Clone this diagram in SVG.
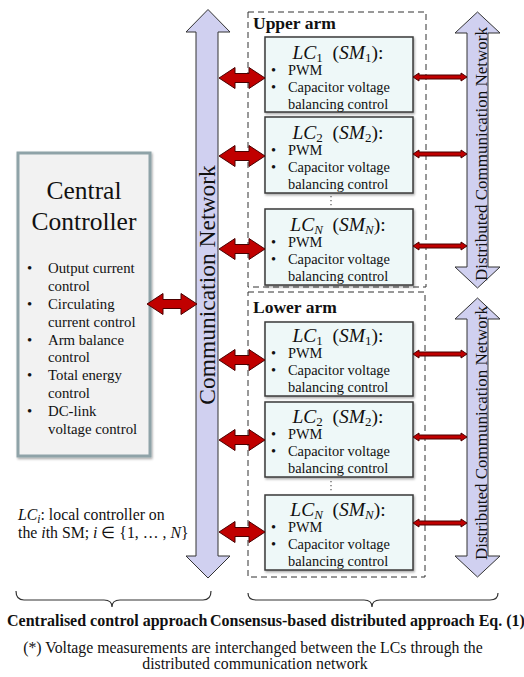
<svg xmlns="http://www.w3.org/2000/svg" width="524" height="677" viewBox="0 0 524 677" font-family="'Liberation Serif', 'Times New Roman', serif">
<defs>
<filter id="sh" x="-10%" y="-10%" width="120%" height="120%">
<feDropShadow dx="1" dy="1.5" stdDeviation="1.2" flood-color="#000" flood-opacity="0.35"/>
</filter>
<style>
text{font-family:"Liberation Serif","Times New Roman",serif;fill:#111}
.cc{fill:#f2f2f2;stroke:#8fa3a8;stroke-width:3}
.lc{fill:#eef8f8;stroke:#3a3a3a;stroke-width:1.5}
.dash{fill:none;stroke:#333;stroke-width:1;stroke-dasharray:6,4}
.net{fill:#d0d0f0;stroke:#333;stroke-width:1}
.red{fill:#c00000;stroke:#4a0000;stroke-width:1}
.brace{fill:none;stroke:#333;stroke-width:1.2}
.bt{font-size:14.4px}
.ct{font-size:14.8px}
.tt{font-size:19.5px}
.it{font-style:italic}
.bold{font-weight:bold}
.dots{stroke:#555;stroke-width:1.2;stroke-dasharray:1.2,2.8}
</style>
</defs>
<rect width="524" height="677" fill="#fff"/>

<g id="central-controller">
<rect class="cc" x="18" y="153" width="132" height="303" filter="url(#sh)"/>
<text x="84" y="199" text-anchor="middle" font-size="25.5">Central</text>
<text x="84" y="230" text-anchor="middle" font-size="25.5">Controller</text>
<g class="ct">
<text x="27" y="273">•</text><text x="48" y="273">Output current</text>
<text x="48" y="291">control</text>
<text x="27" y="309">•</text><text x="48" y="309">Circulating</text>
<text x="48" y="327">current control</text>
<text x="27" y="345">•</text><text x="48" y="345">Arm balance</text>
<text x="48" y="362">control</text>
<text x="27" y="380">•</text><text x="48" y="380">Total energy</text>
<text x="48" y="398">control</text>
<text x="27" y="416">•</text><text x="48" y="416">DC-link</text>
<text x="48" y="434">voltage control</text>
</g>
</g>

<g id="communication-network">
<path class="net" d="M208,9.5 L230,32 L218,32 L218,556 L230,556 L208,578 L186,556 L196,556 L196,32 L186,32 Z"/>
<text transform="translate(215,285) rotate(-90)" text-anchor="middle" font-size="23.5">Communication Network</text>
</g>

<g id="upper-arm">
<rect class="dash" x="248" y="12" width="178" height="275"/>
<text x="253" y="29" class="bold" font-size="17.5">Upper arm</text>
</g>

<g id="lower-arm">
<rect class="dash" x="248" y="292" width="177" height="285"/>
<text x="253" y="313" class="bold" font-size="17.5">Lower arm</text>
</g>

<g id="upper-lc1">
<rect class="lc" x="265" y="37" width="148" height="75" filter="url(#sh)"/>
<text x="338" y="59" text-anchor="middle" class="tt"><tspan class="it">LC</tspan><tspan font-size="13" dy="3">1</tspan><tspan dy="-3">&#160;&#160;(</tspan><tspan class="it">SM</tspan><tspan font-size="13" dy="3">1</tspan><tspan dy="-3">):</tspan></text>
<g class="bt"><text x="271" y="75">•</text><text x="288" y="75">PWM</text>
<text x="271" y="92">•</text><text x="288" y="92">Capacitor voltage</text>
<text x="288" y="109">balancing control</text></g>
</g>
<g id="upper-lc2">
<rect class="lc" x="265" y="117" width="148" height="76" filter="url(#sh)"/>
<text x="338" y="139" text-anchor="middle" class="tt"><tspan class="it">LC</tspan><tspan font-size="13" dy="3">2</tspan><tspan dy="-3">&#160;&#160;(</tspan><tspan class="it">SM</tspan><tspan font-size="13" dy="3">2</tspan><tspan dy="-3">):</tspan></text>
<g class="bt"><text x="271" y="155">•</text><text x="288" y="155">PWM</text>
<text x="271" y="172">•</text><text x="288" y="172">Capacitor voltage</text>
<text x="288" y="189">balancing control</text></g>
</g>
<line class="dots" x1="331" y1="196" x2="331" y2="207"/>
<g id="upper-lcn">
<rect class="lc" x="265" y="209" width="148" height="76" filter="url(#sh)"/>
<text x="338" y="231" text-anchor="middle" class="tt"><tspan class="it">LC</tspan><tspan font-size="13" dy="3" class="it">N</tspan><tspan dy="-3">&#160;&#160;(</tspan><tspan class="it">SM</tspan><tspan font-size="13" dy="3" class="it">N</tspan><tspan dy="-3">):</tspan></text>
<g class="bt"><text x="271" y="247">•</text><text x="288" y="247">PWM</text>
<text x="271" y="264">•</text><text x="288" y="264">Capacitor voltage</text>
<text x="288" y="281">balancing control</text></g>
</g>

<g id="lower-lc1">
<rect class="lc" x="265" y="322" width="148" height="74" filter="url(#sh)"/>
<text x="338" y="342" text-anchor="middle" class="tt"><tspan class="it">LC</tspan><tspan font-size="13" dy="3">1</tspan><tspan dy="-3">&#160;&#160;(</tspan><tspan class="it">SM</tspan><tspan font-size="13" dy="3">1</tspan><tspan dy="-3">):</tspan></text>
<g class="bt"><text x="271" y="358">•</text><text x="288" y="358">PWM</text>
<text x="271" y="375">•</text><text x="288" y="375">Capacitor voltage</text>
<text x="288" y="392">balancing control</text></g>
</g>
<g id="lower-lc2">
<rect class="lc" x="265" y="402" width="148" height="75" filter="url(#sh)"/>
<text x="338" y="423" text-anchor="middle" class="tt"><tspan class="it">LC</tspan><tspan font-size="13" dy="3">2</tspan><tspan dy="-3">&#160;&#160;(</tspan><tspan class="it">SM</tspan><tspan font-size="13" dy="3">2</tspan><tspan dy="-3">):</tspan></text>
<g class="bt"><text x="271" y="439">•</text><text x="288" y="439">PWM</text>
<text x="271" y="456">•</text><text x="288" y="456">Capacitor voltage</text>
<text x="288" y="473">balancing control</text></g>
</g>
<line class="dots" x1="331" y1="481" x2="331" y2="493"/>
<g id="lower-lcn">
<rect class="lc" x="265" y="495" width="148" height="75" filter="url(#sh)"/>
<text x="338" y="516" text-anchor="middle" class="tt"><tspan class="it">LC</tspan><tspan font-size="13" dy="3" class="it">N</tspan><tspan dy="-3">&#160;&#160;(</tspan><tspan class="it">SM</tspan><tspan font-size="13" dy="3" class="it">N</tspan><tspan dy="-3">):</tspan></text>
<g class="bt"><text x="271" y="532">•</text><text x="288" y="532">PWM</text>
<text x="271" y="549">•</text><text x="288" y="549">Capacitor voltage</text>
<text x="288" y="566">balancing control</text></g>
</g>

<g id="distributed-network-upper">
<path class="net" d="M477.5,12 L500,33 L488,33 L488,267 L500,267 L477.5,288 L455,267 L467,267 L467,33 L455,33 Z"/>
<text transform="translate(487,154) rotate(-90)" text-anchor="middle" font-size="17">Distributed Communication Network</text>
</g>
<g id="distributed-network-lower">
<path class="net" d="M477.5,298 L500,319 L488,319 L488,556 L500,556 L477.5,577 L455,556 L467,556 L467,319 L455,319 Z"/>
<text transform="translate(487,433) rotate(-90)" text-anchor="middle" font-size="17">Distributed Communication Network</text>
</g>

<g id="connectors">
<path class="red" d="M147,304 L163,293.5 L163,299.5 L181,299.5 L181,293.5 L197,304 L181,314.5 L181,308.5 L163,308.5 L163,314.5 Z"/>
<path class="red" d="M219,78 L235,67.5 L235,73.5 L249,73.5 L249,67.5 L265,78 L249,88.5 L249,82.5 L235,82.5 L235,88.5 Z"/>
<path class="red" d="M219,156 L235,145.5 L235,151.5 L249,151.5 L249,145.5 L265,156 L249,166.5 L249,160.5 L235,160.5 L235,166.5 Z"/>
<path class="red" d="M219,249 L235,238.5 L235,244.5 L249,244.5 L249,238.5 L265,249 L249,259.5 L249,253.5 L235,253.5 L235,259.5 Z"/>
<path class="red" d="M219,360 L235,349.5 L235,355.5 L249,355.5 L249,349.5 L265,360 L249,370.5 L249,364.5 L235,364.5 L235,370.5 Z"/>
<path class="red" d="M219,440 L235,429.5 L235,435.5 L249,435.5 L249,429.5 L265,440 L249,450.5 L249,444.5 L235,444.5 L235,450.5 Z"/>
<path class="red" d="M219,532 L235,521.5 L235,527.5 L249,527.5 L249,521.5 L265,532 L249,542.5 L249,536.5 L235,536.5 L235,542.5 Z"/>
<path class="red" d="M413,77 L419,73 L419,75 L461,75 L461,73 L467,77 L461,81 L461,79 L419,79 L419,81 Z"/>
<path class="red" d="M413,154 L419,150 L419,152 L461,152 L461,150 L467,154 L461,158 L461,156 L419,156 L419,158 Z"/>
<path class="red" d="M413,246 L419,242 L419,244 L461,244 L461,242 L467,246 L461,250 L461,248 L419,248 L419,250 Z"/>
<path class="red" d="M413,354 L419,350 L419,352 L461,352 L461,350 L467,354 L461,358 L461,356 L419,356 L419,358 Z"/>
<path class="red" d="M413,437 L419,433 L419,435 L461,435 L461,433 L467,437 L461,441 L461,439 L419,439 L419,441 Z"/>
<path class="red" d="M413,523 L419,519 L419,521 L461,521 L461,519 L467,523 L461,527 L461,525 L419,525 L419,527 Z"/>
</g>

<g id="legend">
<text x="18" y="520" font-size="15.8"><tspan class="it">LC</tspan><tspan class="it" font-size="11.5" dy="3">i</tspan><tspan dy="-3">: local controller on</tspan></text>
<text x="18" y="538" font-size="15.8">the <tspan class="it">i</tspan>th SM; <tspan class="it">i</tspan> ∈ {1, … , <tspan class="it">N</tspan>}</text>
</g>

<g id="braces">
<path class="brace" d="M16,591 Q16,600 24,600 L104,600 Q112,600 112,607 Q112,600 120,600 L203,600 Q211,600 211,591"/>
<path class="brace" d="M248,593 Q248,600 256,600 L364,600 Q372,600 372,607 Q372,600 380,600 L490,600 Q498,600 498,593"/>
</g>

<g id="captions">
<text x="7" y="626" class="bold" font-size="16">Centralised control approach</text>
<text x="210" y="626" class="bold" font-size="16">Consensus-based distributed approach Eq. (1)</text>
<text x="253" y="653" text-anchor="middle" font-size="15.8">(*) Voltage measurements are interchanged between the LCs through the</text>
<text x="255" y="669" text-anchor="middle" font-size="15.8">distributed communication network</text>
</g>
</svg>
